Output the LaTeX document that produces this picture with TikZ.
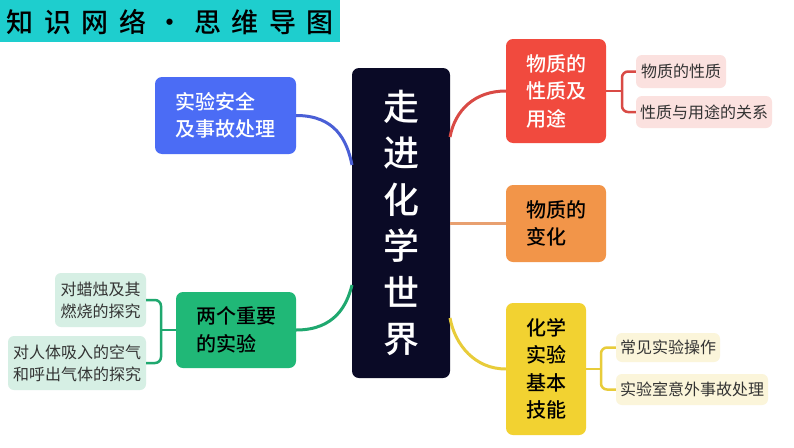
\documentclass[tikz,border=0pt]{standalone}
\usepackage{fontspec}
\newfontfamily\cjk{Noto Sans CJK SC}
\newfontfamily\cjkmed{Noto Sans CJK SC Medium}
\newcommand\titlegap{\hspace{10.5pt}}
\definecolor{titlecyan}{HTML}{1ECECE}
\definecolor{ctrdark}{HTML}{0A0A26}
\definecolor{cblue}{HTML}{4B6CF5}
\definecolor{lblue}{HTML}{4A5FD6}
\definecolor{cgreen}{HTML}{20B877}
\definecolor{lgreen}{HTML}{1FA86F}
\definecolor{sgreen}{HTML}{D6EFE4}
\definecolor{cred}{HTML}{F14A3E}
\definecolor{lred}{HTML}{D94A45}
\definecolor{sred}{HTML}{FBE1DF}
\definecolor{corange}{HTML}{F29549}
\definecolor{lorange}{HTML}{E8A070}
\definecolor{cyellow}{HTML}{F2D231}
\definecolor{lyellow}{HTML}{E8CC3A}
\definecolor{syellow}{HTML}{FBF5DA}
\begin{document}
\begin{tikzpicture}[x=1pt,y=-1pt,
  mainbox/.style={rounded corners=7pt, inner sep=0pt, align=left,
    font=\cjkmed\fontsize{20}{27.5}\selectfont},
  subbox/.style={rounded corners=6pt, inner sep=0pt, align=left, text=black!80,
    font=\cjk\fontsize{16}{22}\selectfont},
  link/.style={line width=3pt},
  brace/.style={line width=2.5pt, rounded corners=6pt}]
\useasboundingbox (0,0) rectangle (794,447);
\fill[white] (0,0) rectangle (794,447);
% title
\node[fill=titlecyan, minimum width=340pt, minimum height=42pt, inner sep=0pt, anchor=north west] (title) at (0,0) {};
\node[font=\cjkmed\fontsize{27}{27}\selectfont, anchor=west, inner sep=0pt] (titletext) at (6.5,22)
  {知\titlegap 识\titlegap 网\titlegap 络\titlegap\makebox[27pt]{·}\titlegap 思\titlegap 维\titlegap 导\titlegap 图};
% centre
\node[fill=ctrdark, rounded corners=7pt, minimum width=98pt, minimum height=310pt, inner sep=0pt,
  text=white, align=center, font=\cjkmed\fontsize{36}{46.5}\selectfont] (ctr) at (401,223)
  {走\\进\\化\\学\\世\\界};
% main branches
\node[mainbox, fill=cblue, text=white, minimum width=141pt, minimum height=77pt] (blue) at (225.5,115.5) {实验安全\\及事故处理};
\node[mainbox, fill=cgreen, text=black, minimum width=120pt, minimum height=76pt] (green) at (236,330) {两个重要\\的实验};
\node[mainbox, fill=cred, text=white, minimum width=100pt, minimum height=104pt] (red) at (556,91) {物质的\\性质及\\用途};
\node[mainbox, fill=corange, text=black, minimum width=100pt, minimum height=77pt] (orange) at (556,223.5) {物质的\\变化};
\node[mainbox, fill=cyellow, text=black, minimum width=80pt, minimum height=132pt] (yellow) at (546,369) {化学\\实验\\基本\\技能};
% sub nodes
\node[subbox, fill=sgreen, minimum width=91pt, minimum height=54pt] (g1) at (100.5,300) {对蜡烛及其\\燃烧的探究};
\node[subbox, fill=sgreen, minimum width=138pt, minimum height=54pt] (g2) at (77,363) {对人体吸入的空气\\和呼出气体的探究};
\node[subbox, fill=sred, minimum width=90pt, minimum height=33pt] (r1) at (681,71.5) {物质的性质};
\node[subbox, fill=sred, minimum width=136pt, minimum height=32pt] (r2) at (704,112) {性质与用途的关系};
\node[subbox, fill=syellow, minimum width=104pt, minimum height=29pt] (y1) at (668,347.5) {常见实验操作};
\node[subbox, fill=syellow, minimum width=152pt, minimum height=31pt] (y2) at (692,389.5) {实验室意外事故处理};
% connector end points on the centre box
\coordinate (cb) at (352,165);
\coordinate (cg) at (352,285);
\coordinate (cr) at (450,137);
\coordinate (co) at (450,223.5);
\coordinate (cy) at (450,318);
\draw[link, lblue] (blue.east) .. controls (335,115.5) and (347,140) .. (cb);
\draw[link, lgreen] (green.east) .. controls (335,330) and (347,305) .. (cg);
\draw[link, lred] (cr) .. controls (455,110) and (475,91) .. (red.west);
\draw[link, lorange] (co) -- (orange.west);
\draw[link, lyellow] (cy) .. controls (455,345) and (475,369) .. (yellow.west);
% brackets
\coordinate (gb) at (161,330);
\draw[brace, lgreen] (green.west) -- (gb);
\draw[brace, lgreen] (g1.east) -| (gb) |- (g2.east);
\coordinate (rb) at (622,91);
\draw[brace, lred] (red.east) -- (rb);
\draw[brace, lred] (r1.west) -| (rb) |- (r2.west);
\coordinate (yb) at (601,369);
\draw[brace, lyellow] (yellow.east) -- (yb);
\draw[brace, lyellow] (y1.west) -| (yb) |- (y2.west);
\end{tikzpicture}
\end{document}
